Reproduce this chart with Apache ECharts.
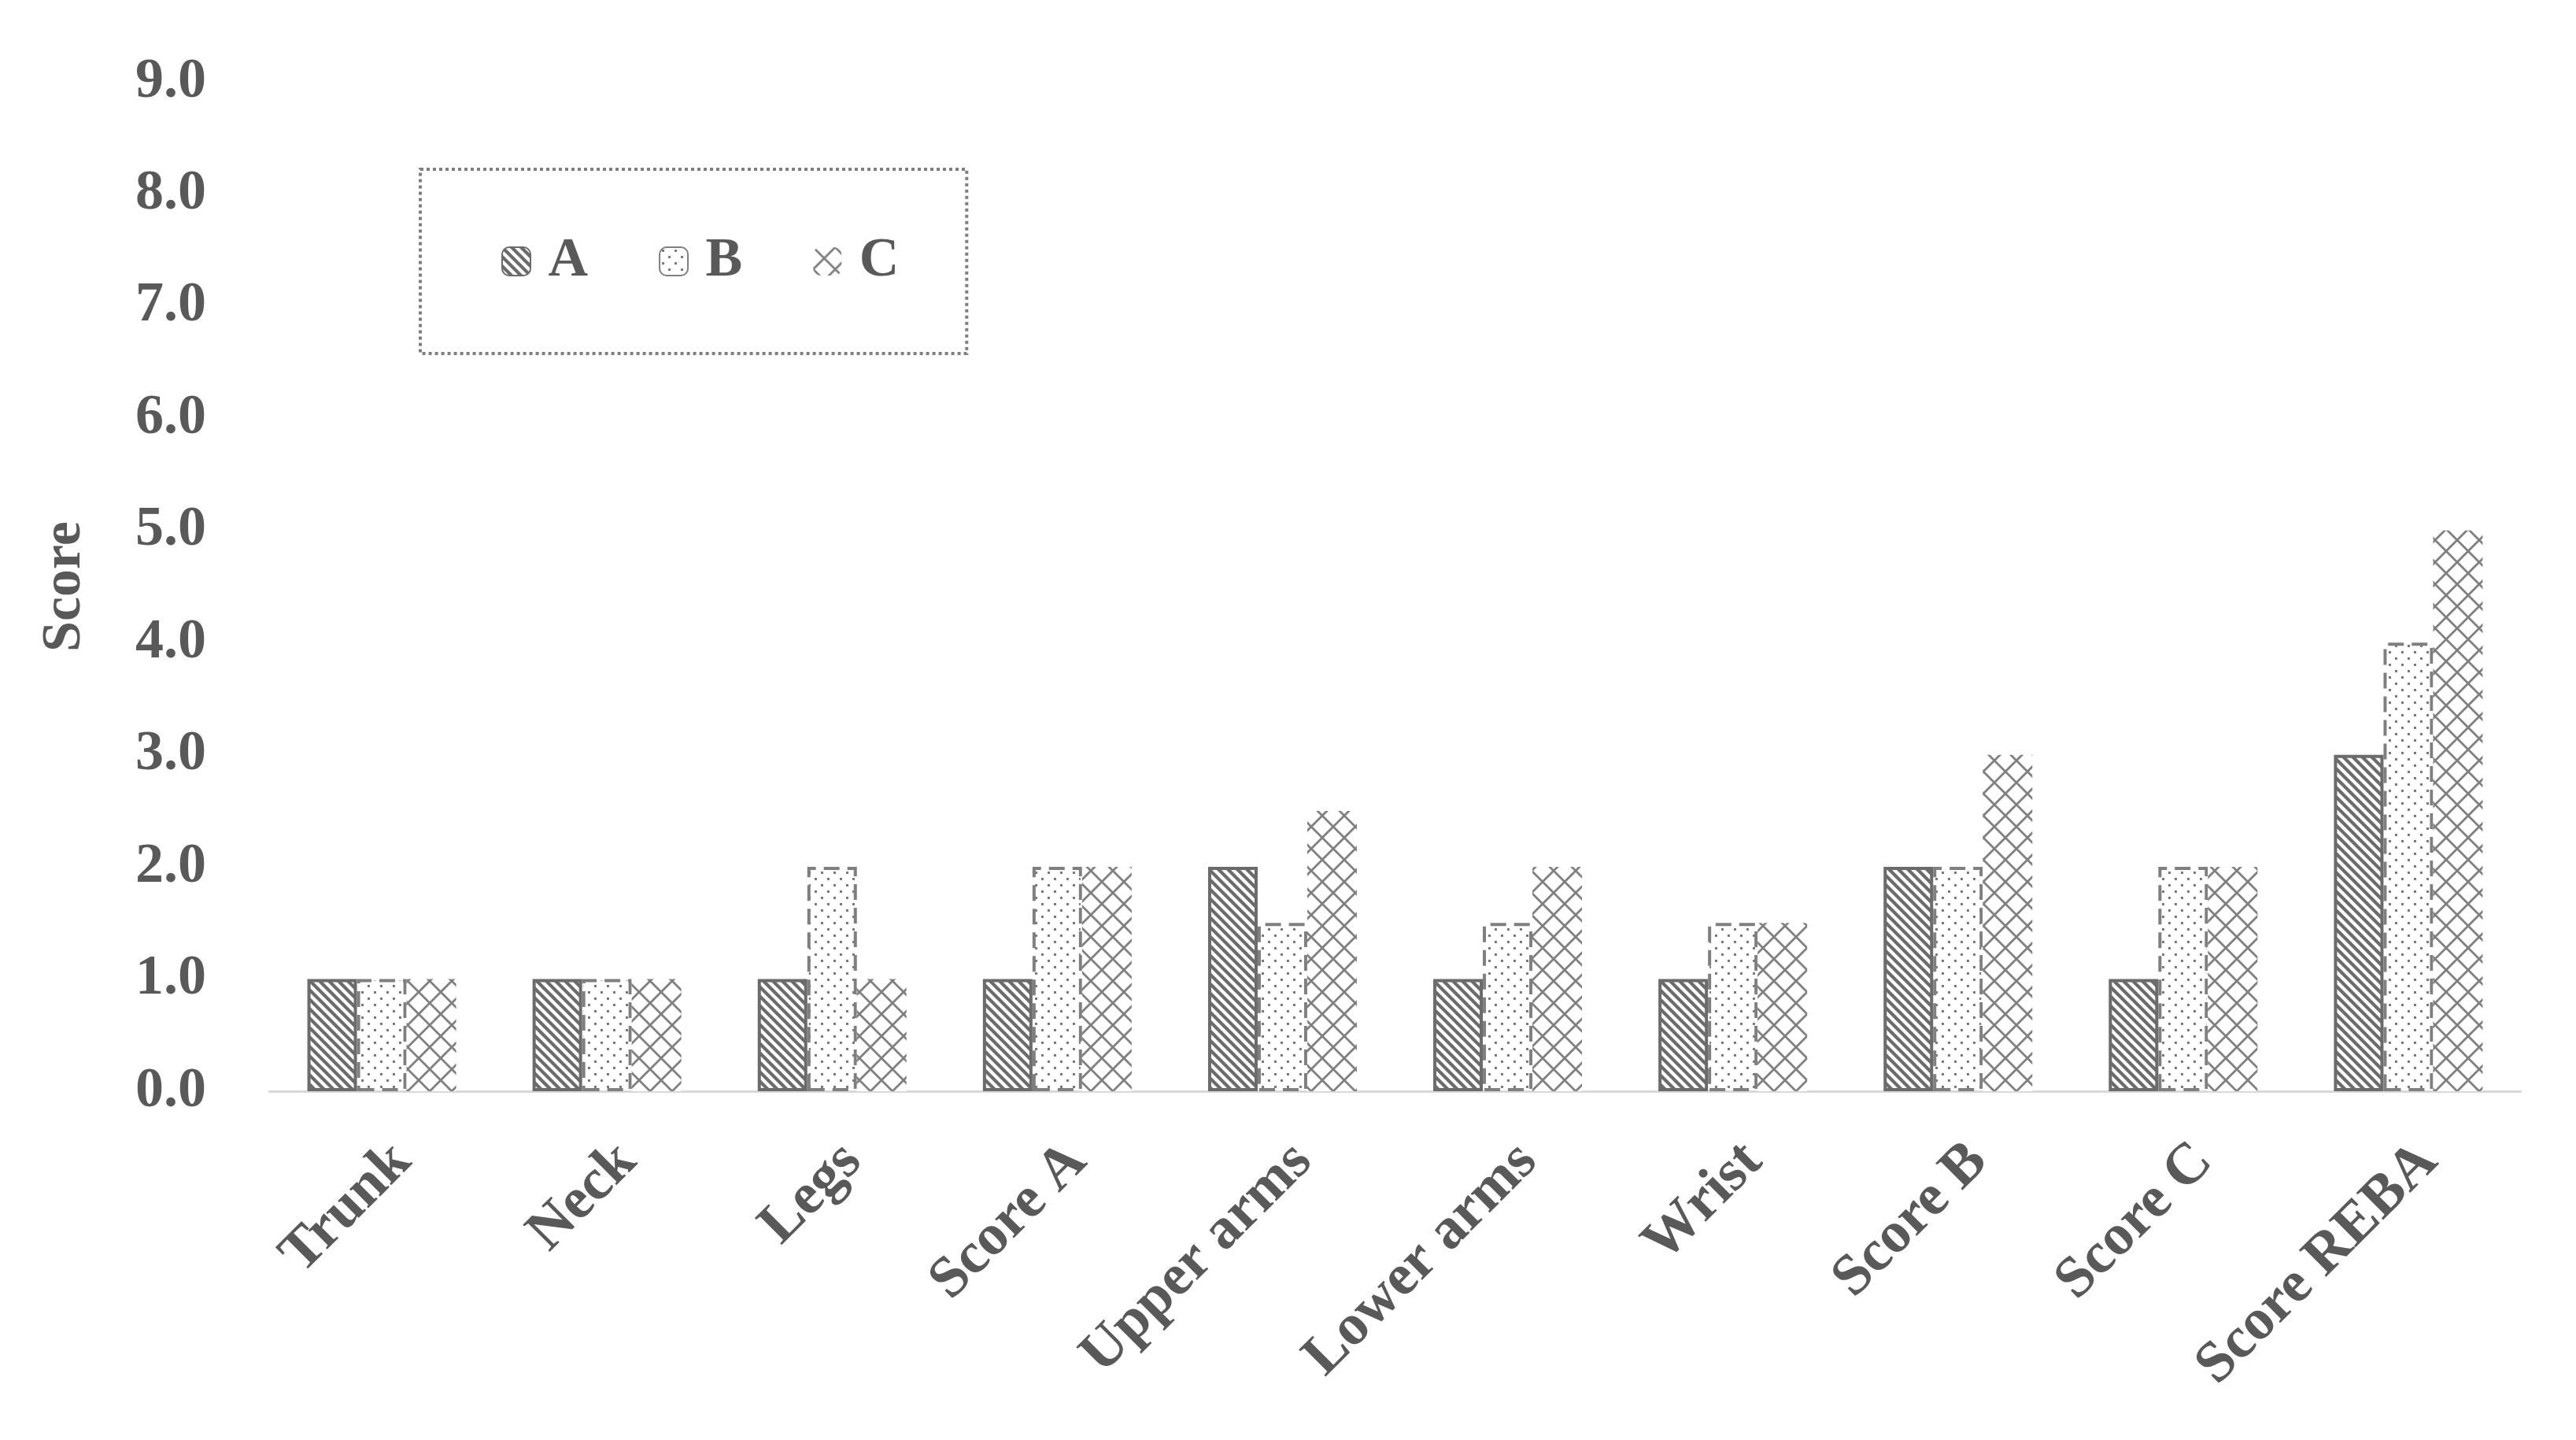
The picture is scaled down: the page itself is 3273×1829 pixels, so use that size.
<!DOCTYPE html>
<html>
<head>
<meta charset="utf-8">
<title>Score chart</title>
<script src="https://cdn.jsdelivr.net/npm/echarts@6/dist/echarts.min.js"></script>
<style>
  html, body { margin: 0; padding: 0; background: #fff; }
  #main { width: 3273px; height: 1829px; }
</style>
</head>
<body>
<div id="main"></div>
<script>
  // data
  var categories = ['Trunk', 'Neck', 'Legs', 'Score A', 'Upper arms', 'Lower arms', 'Wrist', 'Score B', 'Score C', 'Score REBA'];
  var seriesNames = ['A', 'B', 'C'];
  var valuesA = [1, 1, 1, 1, 2, 1, 1, 2, 1, 3];
  var valuesB = [1, 1, 2, 2, 1.5, 1.5, 1.5, 2, 2, 4];
  var valuesC = [1, 1, 1, 2, 2.5, 2, 1.5, 3, 2, 5];
  var yTicks = [0, 1, 2, 3, 4, 5, 6, 7, 8, 9];

  var font = '"Liberation Serif", "Times New Roman", serif';
  var textColor = '#595959';

  // hatch patterns
  function stripes() {
    var c = document.createElement('canvas');
    c.width = 12; c.height = 12;
    var ctx = c.getContext('2d');
    ctx.fillStyle = '#fff';
    ctx.fillRect(0, 0, 12, 12);
    ctx.strokeStyle = '#6b6b6b';
    ctx.lineWidth = 4.2;
    for (var i = -2; i <= 2; i++) {
      ctx.beginPath();
      ctx.moveTo(i * 12 - 2, -2);
      ctx.lineTo(i * 12 + 14, 14);
      ctx.stroke();
    }
    return c;
  }
  function dots() {
    var c = document.createElement('canvas');
    c.width = 16; c.height = 16;
    var ctx = c.getContext('2d');
    ctx.fillStyle = '#fff';
    ctx.fillRect(0, 0, 16, 16);
    ctx.fillStyle = '#7a7a7a';
    ctx.fillRect(3, 3, 3, 3);
    ctx.fillRect(11, 11, 3, 3);
    return c;
  }
  function cross() {
    var c = document.createElement('canvas');
    c.width = 28; c.height = 28;
    var ctx = c.getContext('2d');
    ctx.fillStyle = '#fff';
    ctx.fillRect(0, 0, 28, 28);
    ctx.strokeStyle = '#7f7f7f';
    ctx.lineWidth = 2.8;
    ctx.beginPath();
    ctx.moveTo(0, 0); ctx.lineTo(28, 28);
    ctx.moveTo(28, 0); ctx.lineTo(0, 28);
    ctx.stroke();
    return c;
  }

  var myChart = echarts.init(document.getElementById('main'));

  var option = {
    backgroundColor: '#fff',
    animation: false,
    grid: { left: 342, right: 70, top: 104, bottom: 443 },
    legend: {
      data: seriesNames,
      left: 534,
      top: 215,
      orient: 'horizontal',
      padding: [82, 86, 82, 103],
      itemWidth: 36,
      itemHeight: 36,
      itemGap: 90,
      borderColor: '#7f7f7f',
      borderWidth: 4,
      borderType: 'dotted',
      formatter: function (name) { return ' ' + name; },
      textStyle: { fontFamily: font, fontWeight: 'bold', fontSize: 70, color: textColor }
    },
    xAxis: {
      type: 'category',
      data: categories,
      axisLine: { lineStyle: { color: '#d9d9d9', width: 3 } },
      axisTick: { show: false },
      axisLabel: {
        rotate: 45,
        interval: 0,
        margin: 52,
        verticalAlign: 'top',
        fontFamily: font, fontWeight: 'bold', fontSize: 74, color: textColor
      }
    },
    yAxis: {
      type: 'value',
      min: yTicks[0],
      max: yTicks[yTicks.length - 1],
      interval: 1,
      name: 'Score',
      nameLocation: 'middle',
      nameGap: 224,
      nameTextStyle: { fontFamily: font, fontWeight: 'bold', fontSize: 70, color: textColor },
      axisLine: { show: false },
      axisTick: { show: false },
      splitLine: { show: false },
      axisLabel: {
        margin: 80,
        formatter: function (v) { return v.toFixed(1); },
        fontFamily: font, fontWeight: 'bold', fontSize: 72, color: textColor
      }
    },
    series: [
      {
        name: seriesNames[0],
        type: 'bar',
        data: valuesA,
        barWidth: 63,
        barGap: '0%',
        itemStyle: {
          color: { image: stripes(), repeat: 'repeat' },
          borderColor: '#6b6b6b',
          borderWidth: 4
        }
      },
      {
        name: seriesNames[1],
        type: 'bar',
        data: valuesB,
        barWidth: 63,
        barGap: '0%',
        itemStyle: {
          color: { image: dots(), repeat: 'repeat' },
          borderColor: '#7f7f7f',
          borderWidth: 4,
          borderType: [20, 10]
        }
      },
      {
        name: seriesNames[2],
        type: 'bar',
        data: valuesC,
        barWidth: 63,
        barGap: '0%',
        itemStyle: {
          color: { image: cross(), repeat: 'repeat' },
          borderWidth: 0
        }
      }
    ]
  };

  myChart.setOption(option);
  window.addEventListener('resize', function () { myChart.resize(); });
</script>
</body>
</html>
